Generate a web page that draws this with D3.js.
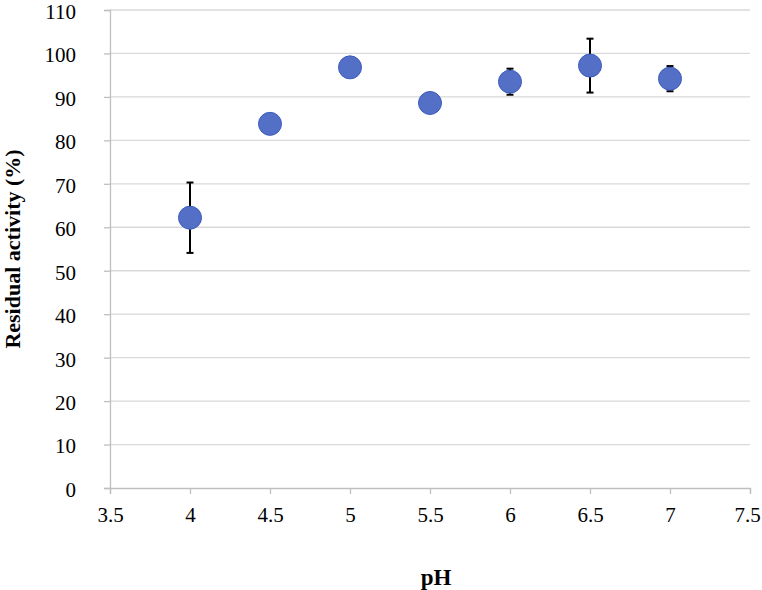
<!DOCTYPE html>
<html>
<head>
<meta charset="utf-8">
<script src="https://cdn.jsdelivr.net/npm/d3@7"></script>
<style>
  body { margin: 0; background: #fff; }
</style>
</head>
<body>
<script>
// data
const pH = [4, 4.5, 5, 5.5, 6, 6.5, 7];
const activity = [62.2, 83.8, 96.8, 88.6, 93.5, 97.2, 94.2];
const errors = [8.1, 0, 0, 0, 3.0, 6.2, 2.9];
const xTicks = [3.5, 4, 4.5, 5, 5.5, 6, 6.5, 7, 7.5];
const yTicks = [0, 10, 20, 30, 40, 50, 60, 70, 80, 90, 100, 110];

const width = 762, height = 590;
const margin = { left: 110, right: 12, top: 10, bottom: 102 };
const serif = '"Liberation Serif"';

const svg = d3.select("body").append("svg")
  .attr("width", width)
  .attr("height", height)
  .attr("font-family", serif);

const x = d3.scaleLinear().domain([3.5, 7.5]).range([margin.left, width - margin.right]);
const y = d3.scaleLinear().domain([0, 110]).range([height - margin.bottom, margin.top]);

// gridlines
svg.append("g")
  .selectAll("line")
  .data(yTicks.filter(d => d > 0))
  .join("line")
  .attr("x1", x(3.5)).attr("x2", x(7.5))
  .attr("y1", d => y(d)).attr("y2", d => y(d))
  .attr("stroke", "#d9d9d9")
  .attr("stroke-width", 1.3);

// y axis
const yAxis = svg.append("g")
  .attr("transform", `translate(${x(3.5)},0)`)
  .call(d3.axisLeft(y).tickValues(yTicks).tickSize(6).tickPadding(28));
yAxis.attr("font-family", serif).attr("font-size", 21);
yAxis.select(".domain").attr("stroke", "#bfbfbf").attr("stroke-width", 1.3);
yAxis.selectAll(".tick line").attr("stroke", "#bfbfbf").attr("stroke-width", 1.3);
yAxis.selectAll("text").attr("dy", "0.4em").attr("fill", "#000");

// x axis
const xAxis = svg.append("g")
  .attr("transform", `translate(0,${y(0)})`)
  .call(d3.axisBottom(x).tickValues(xTicks).tickFormat(d3.format("")).tickSize(6).tickPadding(13));
xAxis.attr("font-family", serif).attr("font-size", 21);
xAxis.select(".domain").attr("stroke", "#bfbfbf").attr("stroke-width", 1.3);
xAxis.selectAll(".tick line").attr("stroke", "#bfbfbf").attr("stroke-width", 1.3);
xAxis.selectAll("text").attr("fill", "#000")
  .attr("dx", d => d === 7.5 ? -3 : 0);

// error bars
const eb = svg.append("g")
  .selectAll("g")
  .data(pH.map((p, i) => ({ p, v: activity[i], e: errors[i] })).filter(d => d.e > 0))
  .join("g")
  .attr("stroke", "#000")
  .attr("stroke-width", 2);
eb.append("line")
  .attr("x1", d => x(d.p)).attr("x2", d => x(d.p))
  .attr("y1", d => y(d.v - d.e)).attr("y2", d => y(d.v + d.e));
eb.append("line")
  .attr("x1", d => x(d.p) - 3.5).attr("x2", d => x(d.p) + 3.5)
  .attr("y1", d => y(d.v + d.e)).attr("y2", d => y(d.v + d.e));
eb.append("line")
  .attr("x1", d => x(d.p) - 3.5).attr("x2", d => x(d.p) + 3.5)
  .attr("y1", d => y(d.v - d.e)).attr("y2", d => y(d.v - d.e));

// points
svg.append("g")
  .selectAll("circle")
  .data(pH)
  .join("circle")
  .attr("cx", d => x(d))
  .attr("cy", (d, i) => y(activity[i]))
  .attr("r", 11.5)
  .attr("fill", "#5470c6")
  .attr("stroke", "#3c5bbd")
  .attr("stroke-width", 1);

// axis titles
svg.append("text")
  .attr("x", (x(3.5) + x(7.5)) / 2 + 6)
  .attr("y", 585)
  .attr("text-anchor", "middle")
  .attr("font-size", 23)
  .attr("font-weight", "bold")
  .text("pH");

svg.append("text")
  .attr("transform", `translate(20,249) rotate(-90)`)
  .attr("text-anchor", "middle")
  .attr("font-size", 22)
  .attr("font-weight", "bold")
  .text("Residual activity (%)");
</script>
</body>
</html>
